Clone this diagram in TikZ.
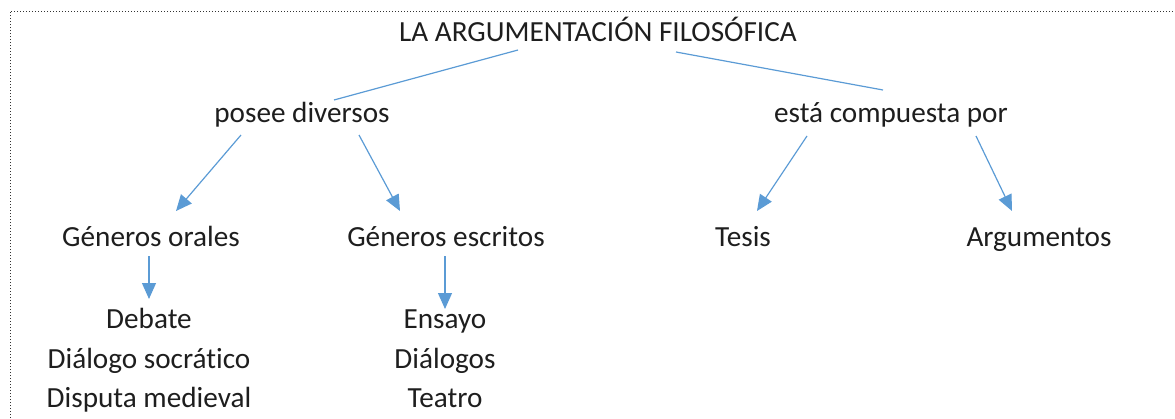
\documentclass[tikz,border=0pt]{standalone}
\usepackage{fontspec}
\setmainfont{Carlito}[Ligatures=NoCommon]
\usetikzlibrary{arrows.meta}
\definecolor{lineblue}{HTML}{5B9BD5}
\definecolor{textdark}{HTML}{1E1E1E}
\begin{document}
\begin{tikzpicture}[x=1pt,y=-1pt,
  lbl/.style={anchor=base,inner sep=0pt,text=textdark,font=\fontsize{29.2}{35}\selectfont},
  link/.style={draw=lineblue,line width=1.2pt},
  arr/.style={link,-{Triangle[length=16pt,width=14pt]}},
  frame/.style={draw=black!80,dotted,line width=1pt}]
\useasboundingbox (0,0) rectangle (1175,418);
\draw[frame] (10,418) -- (10,11) -- (1174,11);
% nodes
\node[lbl] (title) at (598,41) {LA ARGUMENTACIÓN FILOSÓFICA};
\node[lbl] (posee) at (302,122) {posee diversos};
\node[lbl] (comp) at (891,122) {está compuesta por};
\node[lbl] (orales) at (151,246) {Géneros orales};
\node[lbl] (escritos) at (446,246) {Géneros escritos};
\node[lbl] (tesis) at (743,246) {Tesis};
\node[lbl] (argum) at (1039,246) {Argumentos};
\node[lbl] (debate) at (149,328) {Debate};
\node[lbl] (dialogo) at (149,368) {Diálogo socrático};
\node[lbl] (disputa) at (149,407) {Disputa medieval};
\node[lbl] (ensayo) at (445,328) {Ensayo};
\node[lbl] (dialogos) at (445,368) {Diálogos};
\node[lbl] (teatro) at (445,407) {Teatro};
% connector end points
\coordinate (tL) at (518,50);
\coordinate (pT) at (334,100);
\coordinate (tR) at (676,52);
\coordinate (cT) at (883,90);
\coordinate (pL) at (241,135);
\coordinate (oT) at (176,211);
\coordinate (pR) at (359,135);
\coordinate (eT) at (400,211);
\coordinate (cL) at (807,136);
\coordinate (tsT) at (757,211);
\coordinate (cR) at (976,136);
\coordinate (aT) at (1012,211);
\coordinate (oB) at (149,256);
\coordinate (dT) at (149,299);
\coordinate (eB) at (445,256);
\coordinate (enT) at (445,309);
% connectors
\draw[link] (tL) -- (pT);
\draw[link] (tR) -- (cT);
\draw[arr] (pL) -- (oT);
\draw[arr] (pR) -- (eT);
\draw[arr] (cL) -- (tsT);
\draw[arr] (cR) -- (aT);
\draw[arr] (oB) -- (dT);
\draw[arr] (eB) -- (enT);
\end{tikzpicture}
\end{document}
